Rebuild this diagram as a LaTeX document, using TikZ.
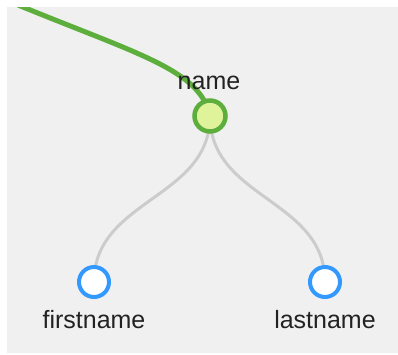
\documentclass[tikz,border=0pt]{standalone}
\usepackage{fontspec}
\setmainfont{Liberation Sans}
\definecolor{bg}{HTML}{F0F0F0}
\definecolor{lgreen}{HTML}{5EAE3E}
\definecolor{lfill}{HTML}{DFF39A}
\definecolor{lblue}{HTML}{3399FF}
\definecolor{lgray}{HTML}{CCCCCC}
\definecolor{txt}{HTML}{222222}
\begin{document}
\begin{tikzpicture}[x=1pt,y=-1pt,
  parentnode/.style={circle,draw=lgreen,fill=lfill,line width=4.5pt,minimum size=31pt,inner sep=0pt},
  leafnode/.style={circle,draw=lblue,fill=white,line width=4pt,minimum size=30pt,inner sep=0pt},
  lbl/.style={anchor=base,text=txt,font=\fontsize{25}{30}\selectfont,inner sep=0pt},
  link/.style={draw=lgray,line width=3pt},
  hot/.style={draw=lgreen,line width=5pt}]
\useasboundingbox (0,0) rectangle (398,354);
\fill[white] (0,0) rectangle (398,354);
\fill[bg] (7,7) rectangle (398,353);
\coordinate (src) at (18,5);
\coordinate (nm) at (210,116);
\coordinate (fn) at (94,282);
\coordinate (ln) at (325,282);
\begin{scope}
\clip (7,7) rectangle (398,353);
\draw[hot] (src) .. controls (140,55) and (200,70) .. (nm);
\end{scope}
\draw[link] (nm) .. controls (210,199) and (94,199) .. (fn);
\draw[link] (nm) .. controls (210,199) and (325,199) .. (ln);
\node[parentnode] (name) at (nm) {};
\node[leafnode] (first) at (fn) {};
\node[leafnode] (last) at (ln) {};
\node[lbl] (namelbl) at (209,89) {name};
\node[lbl] (firstlbl) at (94,328) {firstname};
\node[lbl] (lastlbl) at (325,328) {lastname};
\end{tikzpicture}
\end{document}
